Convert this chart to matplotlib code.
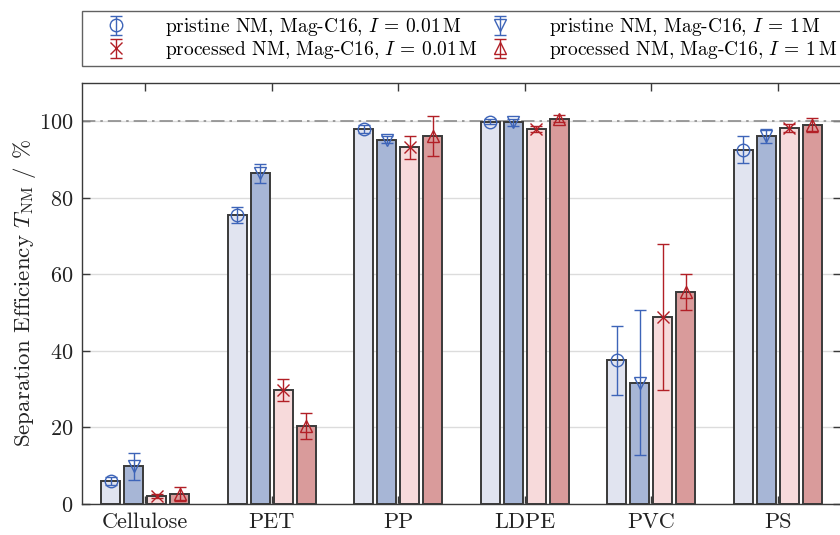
import numpy as np
import matplotlib
matplotlib.use('Agg')
import matplotlib.pyplot as plt
from matplotlib.ticker import MultipleLocator

plt.rcParams['font.family'] = 'serif'
plt.rcParams['font.serif'] = ['cmr10']
plt.rcParams['mathtext.fontset'] = 'cm'
plt.rcParams['axes.formatter.use_mathtext'] = True

# materials on the x axis
materials = ['Cellulose', 'PET', 'PP', 'LDPE', 'PVC', 'PS']

# separation efficiency in %, mean and error, one list per series
pristine_001 = [6.0, 75.5, 98.0, 99.9, 37.5, 92.6]
pristine_001_err = [1.0, 2.1, 1.0, 0.6, 9.1, 3.6]
pristine_1 = [9.8, 86.4, 95.2, 99.7, 31.7, 96.1]
pristine_1_err = [3.4, 2.4, 1.0, 1.0, 19.0, 1.9]
processed_001 = [2.1, 29.8, 93.2, 98.0, 48.9, 98.2]
processed_001_err = [0.5, 2.9, 3.0, 0.7, 19.0, 1.0]
processed_1 = [2.7, 20.4, 96.1, 100.7, 55.3, 99.0]
processed_1_err = [1.8, 3.5, 5.2, 1.0, 4.7, 1.9]

labels = [r'pristine NM, Mag-C16, $I$ = 0.01$\,$M',
          r'pristine NM, Mag-C16, $I$ = 1$\,$M',
          r'processed NM, Mag-C16, $I$ = 0.01$\,$M',
          r'processed NM, Mag-C16, $I$ = 1$\,$M']

blue = '#3d64b8'
red = '#b21f26'
series = [
    (pristine_001, pristine_001_err, '#e1e4f0', blue, 'o'),
    (pristine_1, pristine_1_err, '#a7b6d6', blue, 'v'),
    (processed_001, processed_001_err, '#f7dadb', red, 'x'),
    (processed_1, processed_1_err, '#d99b9b', red, '^'),
]

fig = plt.figure(figsize=(8.4, 5.35), dpi=100)
ax = fig.add_axes([82/840, 1 - 504/535, (841 - 82)/840, (504 - 83)/535])

x = np.arange(1, len(materials) + 1)
step = 0.1815
width = 0.15
handles = []
for i, (vals, errs, fc, ec, mk) in enumerate(series):
    xs = x + (i - 1.5) * step
    ax.bar(xs, vals, width=width, color=fc, edgecolor='#3a3a3a', linewidth=1.4, zorder=2)
    h = ax.errorbar(xs, vals, yerr=errs, fmt=mk, color=ec, mfc='none', mec=ec,
                    markersize=9, markeredgewidth=1.0, elinewidth=1.0,
                    capsize=4.5, capthick=1.0, zorder=3)
    handles.append(h)

ax.axhline(100, color='#8c8c8c', linestyle=(0, (8, 3, 1.5, 3)), linewidth=1.2, zorder=1)

ax.set_xlim(0.5, 6.5)
ax.set_ylim(0, 110)
ax.set_xticks(x)
ax.set_xticklabels(materials)
ax.yaxis.set_major_locator(MultipleLocator(20))
ax.grid(axis='y', color='#dcdcdc', linewidth=1.0, zorder=0)
ax.set_axisbelow(True)
ax.tick_params(direction='in', top=True, right=True, length=6, width=1.0,
               colors='#3a3a3a', labelcolor='#222222', labelsize=16, pad=6)
for s in ax.spines.values():
    s.set_color('#3a3a3a')
    s.set_linewidth(1.0)
ax.set_ylabel(r'Separation Efficiency $T_{\mathrm{NM}}$ / %', fontsize=16.5,
              color='#222222', labelpad=1)

# column-wise fill: 0.01 M entries left, 1 M entries right
order = [0, 2, 1, 3]
leg = fig.legend([handles[i] for i in order], [labels[i] for i in order],
                 ncol=2, loc='lower left', mode='expand',
                 bbox_to_anchor=(82/840, 1 - 66/535, (842 - 82)/840, 54/535),
                 fancybox=False, edgecolor='#3a3a3a', fontsize=14,
                 handletextpad=1.0, columnspacing=1.0, borderaxespad=0,
                 labelspacing=0.05, borderpad=0.25, handlelength=3.0)
leg.get_frame().set_linewidth(1.0)

fig.savefig('out.png', dpi=100)
